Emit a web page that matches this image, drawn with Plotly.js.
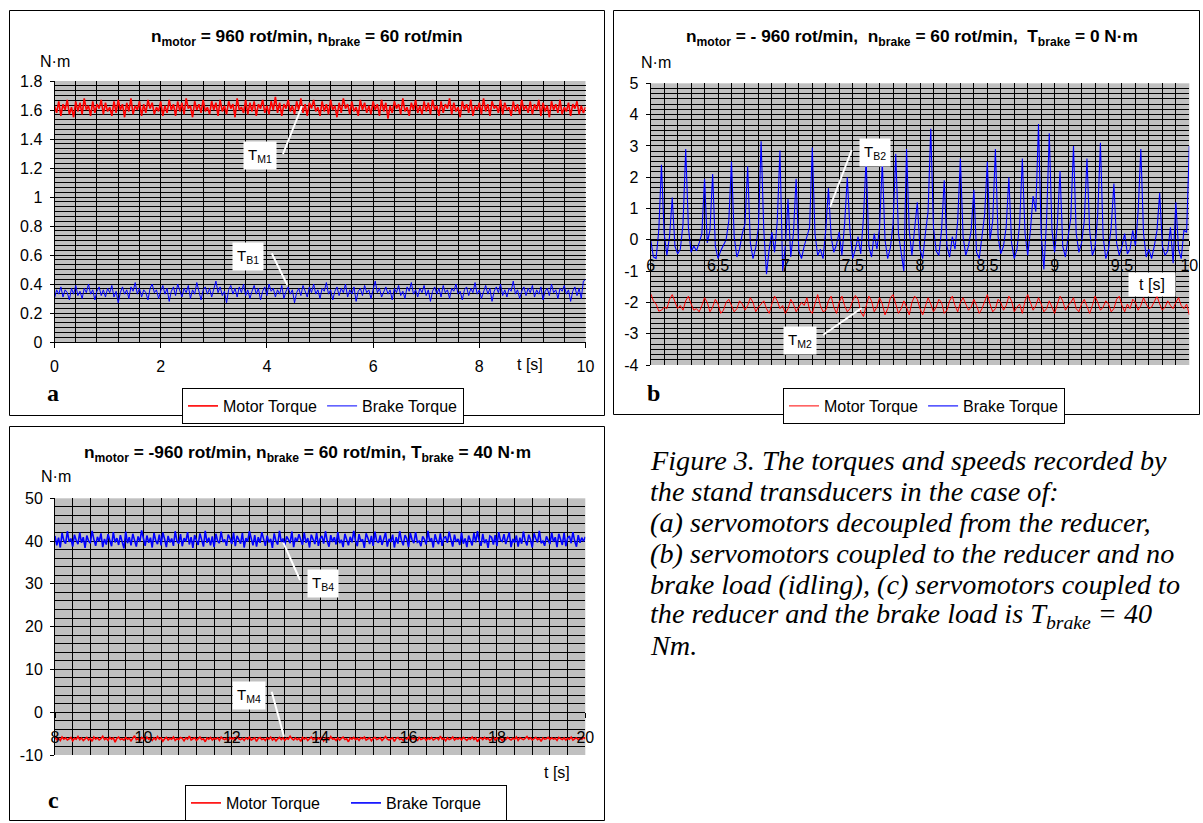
<!DOCTYPE html>
<html>
<head>
<meta charset="utf-8">
<script src="https://cdn.plot.ly/plotly-3.0.1.min.js"></script>
<style>html,body{margin:0;padding:0;background:#fff;}#chart{width:1203px;height:823px;}</style>
</head>
<body>
<div id="chart"></div>
<script>
// ---------- DATA ----------
// Panel a: t = 0 .. 10 s
const motorA = [
1.63,1.58,1.66,1.56,1.64,1.60,1.67,1.57,1.62,1.55,1.66,1.59,1.65,1.57,1.68,1.60,1.63,1.56,1.66,1.58,1.64,1.61,1.67,1.57,1.65,
1.59,1.62,1.56,1.66,1.58,1.67,1.60,1.64,1.55,1.65,1.59,1.68,1.57,1.63,1.60,1.66,1.56,1.64,1.58,1.67,1.61,1.65,1.57,1.62,1.59,
1.66,1.56,1.63,1.58,1.67,1.60,1.64,1.56,1.66,1.59,1.65,1.57,1.68,1.61,1.63,1.55,1.66,1.60,1.64,1.58,1.67,1.59,1.62,1.57,1.66,
1.60,1.65,1.56,1.67,1.59,1.63,1.57,1.66,1.61,1.64,1.55,1.68,1.60,1.62,1.58,1.67,1.57,1.65,1.59,1.66,1.56,1.64,1.61,1.67,1.58,
1.63,1.57,1.66,1.60,1.69,1.58,1.65,1.56,1.64,1.61,1.67,1.59,1.63,1.57,1.66,1.60,1.68,1.58,1.64,1.56,1.65,1.61,1.67,1.59,1.62,
1.56,1.66,1.59,1.64,1.57,1.67,1.60,1.63,1.55,1.65,1.58,1.68,1.61,1.64,1.57,1.66,1.59,1.62,1.56,1.67,1.60,1.65,1.58,1.63,1.57,
1.66,1.60,1.64,1.56,1.67,1.59,1.65,1.54,1.63,1.58,1.66,1.61,1.64,1.57,1.68,1.59,1.62,1.56,1.65,1.60,1.67,1.58,1.63,1.57,1.66,
1.59,1.65,1.57,1.67,1.60,1.63,1.56,1.66,1.58,1.64,1.61,1.68,1.57,1.65,1.59,1.62,1.55,1.66,1.60,1.64,1.58,1.67,1.56,1.63,1.60,
1.65,1.57,1.68,1.59,1.64,1.56,1.66,1.61,1.63,1.58,1.67,1.57,1.65,1.60,1.62,1.56,1.66,1.59,1.64,1.57,1.67,1.60,1.63,1.58,1.66,
1.57,1.64,1.60,1.67,1.56,1.65,1.59,1.63,1.55,1.66,1.60,1.64,1.58,1.67,1.57,1.62,1.59,1.65,1.56,1.64,1.61,1.66,1.57,1.63,1.58,
1.62];
const brakeA = [
0.30,0.36,0.33,0.38,0.31,0.36,0.34,0.29,0.37,0.33,0.39,0.32,0.35,0.30,0.37,0.34,0.40,0.33,0.36,0.29,0.35,0.38,0.32,0.36,0.31,
0.37,0.34,0.39,0.31,0.35,0.27,0.34,0.38,0.33,0.36,0.30,0.38,0.35,0.41,0.33,0.37,0.31,0.36,0.34,0.29,0.37,0.40,0.34,0.36,0.30,
0.35,0.39,0.33,0.37,0.28,0.35,0.38,0.32,0.40,0.35,0.31,0.37,0.34,0.39,0.30,0.36,0.33,0.41,0.35,0.29,0.36,0.38,0.33,0.37,0.31,
0.36,0.42,0.34,0.38,0.32,0.35,0.27,0.36,0.39,0.33,0.37,0.31,0.38,0.34,0.40,0.32,0.36,0.30,0.35,0.39,0.33,0.37,0.29,0.35,0.38,
0.32,0.40,0.35,0.37,0.31,0.36,0.33,0.39,0.30,0.35,0.38,0.33,0.36,0.27,0.34,0.37,0.32,0.39,0.35,0.31,0.38,0.34,0.40,0.33,0.36,
0.30,0.37,0.35,0.41,0.33,0.36,0.29,0.35,0.38,0.32,0.37,0.34,0.40,0.31,0.36,0.33,0.38,0.28,0.35,0.37,0.32,0.39,0.34,0.36,0.30,
0.36,0.42,0.34,0.37,0.31,0.35,0.38,0.33,0.36,0.29,0.37,0.34,0.39,0.32,0.35,0.30,0.38,0.35,0.41,0.33,0.36,0.31,0.37,0.34,0.39,
0.32,0.36,0.28,0.35,0.38,0.33,0.37,0.31,0.39,0.34,0.36,0.30,0.37,0.35,0.40,0.33,0.35,0.29,0.36,0.38,0.32,0.37,0.34,0.41,0.33,
0.36,0.30,0.35,0.39,0.33,0.37,0.28,0.35,0.38,0.34,0.40,0.32,0.36,0.31,0.37,0.35,0.42,0.33,0.36,0.30,0.35,0.38,0.32,0.37,0.34,
0.39,0.31,0.36,0.33,0.38,0.29,0.35,0.37,0.32,0.40,0.34,0.36,0.30,0.37,0.35,0.39,0.33,0.36,0.28,0.35,0.38,0.32,0.37,0.30,0.42,
0.43];

// Panel b: t = 6 .. 10 s
const brakeB = [
0.0,-0.55,-0.6,0.3,2.4,0.2,-0.5,0.1,1.35,-0.2,
-0.45,-0.3,0.5,2.9,0.4,-0.4,-0.2,-0.35,-0.1,0.2,
1.95,-0.1,0.3,2.1,-0.2,-0.6,-0.35,-0.15,0.0,0.6,
2.5,0.1,-0.55,-0.3,0.2,0.5,2.35,-0.1,-0.6,-0.25,
0.4,3.15,0.3,-1.1,-0.3,0.25,-0.4,0.6,2.85,-1.0,
-0.2,1.3,-0.55,0.2,1.95,-0.35,-0.6,-0.2,0.1,0.4,
2.95,0.2,-0.5,-0.3,-0.6,0.3,1.65,0.1,-0.4,-0.15,
0.25,-0.5,0.5,2.0,0.3,-0.6,-0.3,0.1,-0.45,0.7,
2.6,-0.2,-0.55,0.2,-0.3,0.4,2.5,0.0,-0.6,-0.25,
0.5,2.75,0.2,-0.4,-1.0,2.9,0.3,-0.5,0.4,1.2,
-0.3,-0.6,0.2,0.9,3.55,0.4,-0.35,-0.5,0.3,1.9,
-0.2,-0.55,0.1,-0.3,0.6,2.6,0.1,-0.5,-0.2,0.3,
1.6,-0.4,-0.6,0.2,0.8,2.5,0.0,0.6,2.9,0.1,
-0.45,-0.2,0.4,2.0,-0.1,-0.6,-0.3,0.5,2.6,0.2,
-0.5,0.3,1.4,0.9,3.7,0.2,-0.95,0.6,3.4,0.3,
-0.4,0.5,2.2,-0.2,-0.55,0.1,0.7,3.0,0.2,-0.4,
-0.1,0.6,2.6,0.3,-0.5,-0.25,0.8,3.1,0.1,-0.6,
-0.3,0.4,1.8,-0.1,-0.5,-0.2,0.2,-0.45,-0.3,0.3,
-0.2,0.9,2.9,0.2,-0.55,-0.3,-0.6,-0.2,0.3,1.5,
-0.2,-0.5,-0.35,0.4,-0.75,1.2,-0.3,-0.6,0.3,0.25,
3.0];
const motorB = [
-1.72,-1.95,-2.05,-2.28,-2.25,-2.15,-2.2,-1.9,-1.75,-2.0,
-2.2,-2.1,-2.25,-1.95,-1.8,-2.05,-2.25,-2.2,-2.3,-2.1,
-1.85,-2.0,-2.3,-2.15,-1.9,-2.05,-2.35,-2.25,-2.0,-1.9,
-2.1,-2.3,-2.2,-1.95,-2.05,-2.25,-2.1,-1.85,-2.0,-2.3,
-2.15,-2.05,-1.95,-2.2,-2.35,-2.05,-1.8,-1.95,-2.2,-2.1,
-2.35,-2.2,-1.9,-2.05,-2.3,-2.15,-2.0,-2.1,-1.85,-2.25,
-2.35,-2.05,-1.75,-2.1,-2.3,-2.25,-1.95,-1.8,-2.15,-2.35,
-2.0,-1.8,-2.1,-2.3,-2.2,-1.95,-1.78,-1.9,-2.3,-2.45,
-2.1,-1.8,-1.95,-2.3,-2.15,-1.85,-2.05,-2.4,-2.2,-1.85,
-1.75,-2.05,-2.35,-2.2,-1.95,-2.15,-2.4,-2.0,-1.8,-1.9,
-2.2,-2.4,-2.1,-1.85,-2.05,-2.3,-2.15,-1.9,-2.0,-2.35,
-2.25,-1.95,-1.8,-2.1,-2.3,-2.0,-1.85,-2.05,-2.25,-2.15,
-1.9,-2.1,-2.35,-2.2,-1.95,-1.75,-2.05,-2.3,-2.2,-1.9,
-2.0,-2.25,-2.1,-1.8,-1.95,-2.3,-2.15,-2.05,-2.35,-1.95,
-1.75,-2.0,-2.25,-2.1,-1.85,-2.05,-2.3,-2.2,-1.95,-2.15,
-2.35,-2.05,-1.8,-1.95,-2.25,-2.1,-2.0,-1.85,-2.2,-2.3,
-2.05,-1.9,-2.15,-2.35,-2.1,-1.8,-2.0,-2.25,-2.15,-1.95,
-2.05,-2.3,-2.2,-1.9,-1.8,-2.1,-2.3,-2.05,-2.2,-1.9,
-2.0,-2.25,-2.1,-1.85,-2.05,-2.2,-2.15,-1.95,-1.8,-2.05,
-2.25,-2.15,-1.95,-2.1,-2.2,-2.0,-1.85,-2.1,-2.2,-2.05,
-2.4];

// Panel c: t = 8 .. 20 s
const brakeC = [
41.2,39.0,40.8,38.5,41.9,40.1,39.4,42.3,39.8,40.6,
38.7,41.5,40.2,39.3,42.0,39.6,40.9,38.4,41.3,40.0,
39.5,42.4,40.4,38.9,41.0,39.9,41.8,38.6,40.5,39.2,
41.6,40.3,38.8,42.1,39.7,40.7,39.1,41.4,40.0,38.3,
42.2,39.5,40.9,39.0,41.7,40.2,38.7,41.1,39.8,42.5,
40.4,38.9,41.3,39.6,40.8,38.5,41.9,40.1,39.3,41.5,
39.0,42.0,40.5,38.6,41.2,39.7,40.6,38.9,42.3,40.0,
39.4,41.6,38.8,40.7,39.9,42.1,39.2,40.9,38.4,41.4,
40.2,39.1,41.8,40.3,38.7,42.4,39.6,40.8,39.0,41.1,
38.6,41.7,40.0,39.5,42.2,39.8,40.4,38.9,41.5,40.6,
39.3,42.0,38.8,41.2,40.1,39.4,41.9,38.5,40.7,39.9,
42.3,40.2,39.0,41.4,38.7,40.9,39.6,42.1,40.3,38.9,
41.3,39.7,40.5,38.4,41.8,40.0,39.2,42.4,39.8,40.6,
38.8,41.1,40.4,39.5,42.2,38.6,40.8,39.9,41.6,40.1,
39.1,42.0,39.6,40.7,38.5,41.5,40.2,39.3,41.9,38.9,
40.6,41.2,39.4,42.3,40.0,38.7,41.4,39.8,40.9,39.2,
42.1,39.5,40.3,38.6,41.7,40.5,39.0,41.0,39.7,42.4,
40.1,38.8,41.6,39.9,40.4,38.4,41.8,40.7,39.3,41.2,
38.9,42.2,40.0,39.6,41.3,39.1,40.8,42.0,38.7,40.5,
39.8,41.5,38.5,40.9,39.4,42.3,40.2,39.0,41.4,40.6,
38.6,41.9,40.3,39.5,42.1,39.7,40.0,38.8,41.1,40.4,
39.2,42.4,39.9,40.7,38.5,41.6,40.1,39.3,41.8,38.9,
40.8,41.0,39.6,42.2,40.3,38.7,41.5,39.8,40.5,39.1,
42.0,39.4,40.6,38.6,41.3,40.2,39.0,41.9,39.7,42.3,
40.0,38.9,41.7,39.5,40.4,38.4,41.2,40.9,39.2,41.4,
38.8,42.1,40.2,39.9,41.6,39.3,40.7,42.0,38.6,40.5,
39.6,41.3,38.7,40.8,39.4,42.2,40.1,39.0,41.5,40.3,
38.5,41.8,40.6,39.7,42.4,39.5,40.0,38.9,41.1,40.2,
39.3,42.0,39.8,40.9,38.6,41.7,40.4,39.1,41.9,38.8,
40.7,41.2,39.5,42.1,40.0,38.7,41.4,39.6,40.8,39.9,
41.0];
const motorC = [
-5.9,-6.4,-6.1,-6.6,-5.8,-6.3,-6.0,-6.5,-6.2,-5.9,
-6.7,-6.1,-6.3,-5.7,-6.4,-6.0,-6.6,-6.2,-5.9,-6.5,
-6.1,-6.8,-5.8,-6.3,-6.0,-6.5,-6.2,-5.6,-6.4,-6.1,
-6.6,-5.9,-6.3,-6.0,-7.0,-6.1,-5.8,-6.4,-6.2,-6.5,
-5.9,-6.3,-6.1,-6.7,-6.0,-5.5,-6.4,-6.2,-6.6,-5.9,
-6.2,-6.5,-5.8,-6.3,-6.1,-6.6,-6.0,-6.4,-5.7,-6.3,
-6.0,-6.8,-6.2,-5.9,-6.5,-6.1,-6.3,-5.8,-6.6,-6.2,
-6.4,-5.9,-6.1,-6.7,-6.0,-6.3,-5.6,-6.5,-6.2,-6.0,
-6.6,-6.1,-5.8,-6.4,-6.2,-6.9,-6.0,-6.3,-5.9,-6.5,
-6.1,-6.3,-6.0,-6.6,-5.8,-6.2,-6.4,-6.1,-6.7,-5.9,
-6.3,-6.0,-6.5,-5.7,-6.2,-6.4,-6.1,-6.6,-6.0,-6.3,
-5.8,-6.5,-6.2,-6.0,-6.8,-6.1,-5.9,-6.4,-6.2,-6.6,
-6.0,-6.3,-5.8,-6.5,-6.1,-6.7,-6.2,-5.9,-6.4,-6.0,
-6.6,-6.1,-6.3,-5.6,-6.2,-6.5,-6.0,-6.4,-6.1,-6.8,
-5.9,-6.3,-6.0,-6.6,-6.2,-5.8,-6.4,-6.1,-6.5,-6.0,
-6.3,-5.9,-6.7,-6.1,-6.0,-6.4,-5.7,-6.3,-6.2,-6.6,
-6.0,-6.5,-6.1,-5.8,-6.4,-6.2,-6.9,-6.0,-6.3,-5.9,
-6.4,-6.1,-6.6,-6.0,-6.2,-5.8,-6.5,-6.3,-6.0,-6.7,
-6.1,-5.9,-6.4,-6.2,-6.0,-6.6,-6.1,-5.7,-6.3,-6.5,
-6.2,-6.0,-6.8,-6.1,-5.9,-6.4,-6.2,-6.6,-6.0,-6.3,
-5.8,-6.5,-6.1,-6.3,-6.0,-6.7,-5.9,-6.4,-6.2,-6.0,
-6.6,-6.1,-6.3,-5.9,-6.5,-6.2,-6.0,-6.4,-5.6,-6.3,
-6.1,-6.7,-6.0,-6.4,-6.2,-5.8,-6.5,-6.1,-6.3,-6.0,
-6.5,-5.9,-6.2,-6.6,-6.1,-6.3,-5.8,-6.4,-6.0,-6.9,
-6.2,-6.0,-6.4,-5.9,-6.3,-6.1,-6.6,-6.2,-5.8,-6.5,
-6.0,-6.3,-6.1,-6.7,-6.0,-6.4,-5.9,-6.2,-6.5,-6.1,
-6.3,-5.8,-6.6,-6.0,-6.2,-6.4,-6.1,-5.7,-6.3,-6.0,
-6.5,-6.2,-5.9,-6.4,-6.1,-6.8,-6.0,-6.3,-6.2,-5.9,
-6.4,-6.0,-6.3,-6.1,-6.6,-5.9,-6.2,-6.4,-6.0,-6.5,
-6.1,-6.3,-5.8,-6.5,-6.2,-6.0,-6.4,-6.1,-6.3,-5.9,
-6.2];

// Tick labels
const xTickValsA = [0,2,4,6,8,10];
const xTickTextA = ["0","2","4","6","8","10"];
const yTickValsA = [0,0.2,0.4,0.6,0.8,1,1.2,1.4,1.6,1.8];
const yTickTextA = ["0","0.2","0.4","0.6","0.8","1","1.2","1.4","1.6","1.8"];
const xTickValsB = [6,6.5,7,7.5,8,8.5,9,9.5,10];
const xTickTextB = ["6","6.5","7","7.5","8","8.5","9","9.5","10"];
const yTickValsB = [-4,-3,-2,-1,0,1,2,3,4,5];
const yTickTextB = ["-4","-3","-2","-1","0","1","2","3","4","5"];
const xTickValsC = [8,10,12,14,16,18,20];
const xTickTextC = ["8","10","12","14","16","18","20"];
const yTickValsC = [-10,0,10,20,30,40,50];
const yTickTextC = ["-10","0","10","20","30","40","50"];

// ---------- HELPERS ----------
const W = 1203, H = 823;
const px = x => x / W;
const py = y => 1 - y / H;
function timeGrid(t0, t1, n) {
  const a = [], dt = (t1 - t0) / (n - 1);
  for (let i = 0; i < n; i++) a.push(+(t0 + i * dt).toFixed(5));
  return a;
}
const FONT = 'Liberation Sans, Arial, sans-serif';
const SERIF = 'Liberation Serif, Times New Roman, serif';
const TICK = 16;

function xAx(domain, range, anchor, position, vals, texts, minorDt, standoff) {
  const ax = {
    domain, range, anchor, tickmode: 'array', tickvals: vals, ticktext: texts,
    ticks: 'outside', ticklen: 5, tickwidth: 1, tickcolor: '#000',
    showline: true, linecolor: '#000', linewidth: 1,
    showgrid: true, gridcolor: '#000', gridwidth: 1, zeroline: false,
    ticklabelstandoff: standoff, tickfont: {family: FONT, size: TICK, color: '#000'},
    minor: {tickmode: 'linear', tick0: range[0], dtick: minorDt, showgrid: true, gridcolor: '#000', gridwidth: 1, ticks: ''},
    fixedrange: true
  };
  if (position !== null) ax.position = position;
  return ax;
}
function yAx(domain, range, anchor, vals, texts, minorDt) {
  return {
    domain, range, anchor, tickmode: 'array', tickvals: vals, ticktext: texts,
    ticks: 'outside', ticklen: 4, tickwidth: 1, tickcolor: '#000',
    showline: true, linecolor: '#000', linewidth: 1,
    showgrid: true, gridcolor: '#000', gridwidth: 1, zeroline: false,
    ticklabelstandoff: 4, tickfont: {family: FONT, size: TICK, color: '#000'},
    minor: {tickmode: 'linear', tick0: range[0], dtick: minorDt, showgrid: true, gridcolor: '#000', gridwidth: 1, ticks: ''},
    fixedrange: true
  };
}

const RED = '#FF0000', BLUE = '#0000FF';
const traces = [
  {x: timeGrid(0, 10, motorA.length), y: motorA, type: 'scatter', mode: 'lines', name: 'Motor Torque', line: {color: RED, width: 1.6}, xaxis: 'x', yaxis: 'y', legend: 'legend'},
  {x: timeGrid(0, 10, brakeA.length), y: brakeA, type: 'scatter', mode: 'lines', name: 'Brake Torque', line: {color: BLUE, width: 1}, xaxis: 'x', yaxis: 'y', legend: 'legend'},
  {x: timeGrid(6, 10, motorB.length), y: motorB, type: 'scatter', mode: 'lines', name: 'Motor Torque', line: {color: RED, width: 1}, xaxis: 'x2', yaxis: 'y2', legend: 'legend2'},
  {x: timeGrid(6, 10, brakeB.length), y: brakeB, type: 'scatter', mode: 'lines', name: 'Brake Torque', line: {color: BLUE, width: 1.1}, xaxis: 'x2', yaxis: 'y2', legend: 'legend2'},
  {x: timeGrid(8, 20, motorC.length), y: motorC, type: 'scatter', mode: 'lines', name: 'Motor Torque', line: {color: RED, width: 1.6}, xaxis: 'x3', yaxis: 'y3', legend: 'legend3'},
  {x: timeGrid(8, 20, brakeC.length), y: brakeC, type: 'scatter', mode: 'lines', name: 'Brake Torque', line: {color: BLUE, width: 1.6}, xaxis: 'x3', yaxis: 'y3', legend: 'legend3'}
];

function legendAt(x, y, extra) {
  return Object.assign({
    x: px(x), y: py(y), xanchor: 'left', yanchor: 'top', orientation: 'h',
    bgcolor: '#fff', bordercolor: '#000', borderwidth: 1,
    font: {family: FONT, size: 16, color: '#000'}, itemclick: false, itemdoubleclick: false
  }, extra || {});
}

function txt(x, y, text, size, opts) {
  return Object.assign({
    x: px(x), y: py(y), xref: 'paper', yref: 'paper', text, showarrow: false,
    xanchor: 'center', yanchor: 'middle', font: {family: FONT, size, color: '#000'}
  }, opts || {});
}
function callout(x, y, text) {
  return txt(x, y, text, 15, {bgcolor: '#fff', borderpad: 4});
}
function wline(x0, y0, x1, y1) {
  return {type: 'line', xref: 'paper', yref: 'paper', x0: px(x0), y0: py(y0), x1: px(x1), y1: py(y1), line: {color: '#fff', width: 2}};
}
function box(x0, y0, x1, y1) {
  return {type: 'rect', xref: 'paper', yref: 'paper', x0: px(x0), y0: py(y0), x1: px(x1), y1: py(y1), line: {color: '#000', width: 1}, fillcolor: 'rgba(0,0,0,0)'};
}
const NB = '\u00A0';
const CAP = 28.2;
const capOpts = {xanchor: 'left', font: {family: SERIF, size: CAP, color: '#000'}};
const TITLE = 17.3;

const layout = {
  width: W, height: H, margin: {l: 0, r: 0, t: 0, b: 0, pad: 0},
  paper_bgcolor: '#fff', plot_bgcolor: '#C0C0C0', showlegend: true,
  font: {family: FONT, size: 15, color: '#000'},
  xaxis: xAx([px(54.5), px(585.5)], [0, 10], 'y', null, xTickValsA, xTickTextA, 0.4, 5),
  yaxis: yAx([py(342), py(81)], [0, 1.8], 'x', yTickValsA, yTickTextA, 0.2 / 6),
  xaxis2: xAx([px(650.7), px(1189.3)], [6, 10], 'free', py(239.8), xTickValsB, xTickTextB, 0.1, 6),
  yaxis2: yAx([py(365), py(83.3)], [-4, 5], 'x2', yTickValsB, yTickTextB, 1 / 6),
  xaxis3: xAx([px(55), px(585.3)], [8, 20], 'free', py(712.2), xTickValsC, xTickTextC, 0.4, 6),
  yaxis3: yAx([py(755), py(498.3)], [-10, 50], 'x3', yTickValsC, yTickTextC, 2),
  legend: legendAt(182, 388),
  legend2: legendAt(783, 388),
  legend3: legendAt(185, 785, {entrywidth: 115}),
  shapes: [
    box(9.5, 10.5, 604.5, 415.5),
    box(613.5, 10.5, 1199.5, 414.5),
    box(9.5, 426.5, 604.5, 820.5),
    wline(283, 154, 302, 106),
    wline(271.7, 253.3, 287.3, 285),
    wline(851.7, 150, 830, 207),
    wline(823, 335, 861.7, 308),
    wline(283.3, 542.7, 300, 580),
    wline(271.7, 691.7, 284, 736.7)
  ],
  annotations: [
    txt(307, 37, '<b>n<sub>motor</sub> = 960 rot/min, n<sub>brake</sub> = 60 rot/min</b>', TITLE),
    txt(912, 38, '<b>n<sub>motor</sub> = - 960 rot/min,' + NB + ' n<sub>brake</sub> = 60 rot/min,' + NB + ' T<sub>brake</sub> = 0 N·m</b>', TITLE),
    txt(307, 453, '<b>n<sub>motor</sub> = -960 rot/min, n<sub>brake</sub> = 60 rot/min, T<sub>brake</sub> = 40 N·m</b>', TITLE),
    txt(55, 61, 'N·m', 16),
    txt(655.5, 62, 'N·m', 16),
    txt(56, 476, 'N·m', 16),
    txt(530, 364, 't [s]', 16),
    txt(1151.5, 284.5, 't [s]', 16, {bgcolor: '#fff', width: 40, height: 17, borderpad: 3}),
    txt(557, 772, 't [s]', 16),
    txt(53, 393, '<b>a</b>', 24, {font: {family: SERIF, size: 24, color: '#000'}}),
    txt(653, 393, '<b>b</b>', 24, {font: {family: SERIF, size: 24, color: '#000'}}),
    txt(53, 800, '<b>c</b>', 24, {font: {family: SERIF, size: 24, color: '#000'}}),
    callout(259.5, 155, 'T<sub>M1</sub>'),
    callout(248, 256.7, 'T<sub>B1</sub>'),
    callout(875, 152.5, 'T<sub>B2</sub>'),
    callout(799.5, 340, 'T<sub>M2</sub>'),
    callout(323.3, 583.3, 'T<sub>B4</sub>'),
    callout(249, 695.5, 'T<sub>M4</sub>'),
    txt(648, 460, '<i>Figure 3. The torques and speeds recorded by</i>', CAP, capOpts),
    txt(648, 491, '<i>the stand transducers in the case of:</i>', CAP, capOpts),
    txt(648, 522, '<i>(a) servomotors decoupled from the reducer,</i>', CAP, capOpts),
    txt(648, 553, '<i>(b) servomotors coupled to the reducer and no</i>', CAP, capOpts),
    txt(648, 584, '<i>brake load (idling), (c) servomotors coupled to</i>', CAP, capOpts),
    txt(648, 615, '<i>the reducer and the brake load is T<sub>brake</sub> = 40</i>', CAP, capOpts),
    txt(648, 645, '<i>Nm.</i>', CAP, capOpts)
  ]
};

Plotly.newPlot('chart', traces, layout, {staticPlot: true, displayModeBar: false});
</script>
</body>
</html>
